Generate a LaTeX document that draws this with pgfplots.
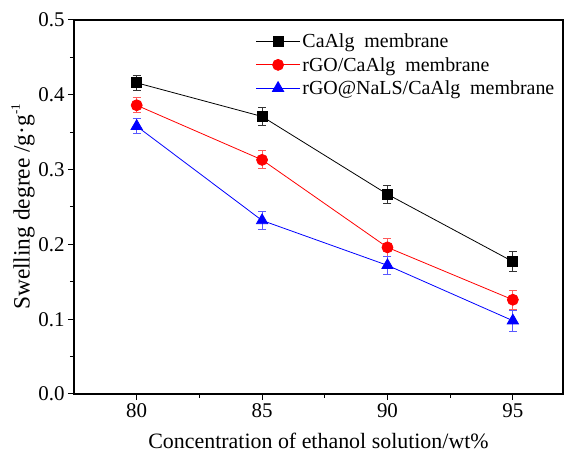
\documentclass[border=0pt]{standalone}
\usepackage{pgfplots}
\pgfplotsset{compat=1.18}
\usepackage{fontspec}
\setmainfont{Liberation Serif}

\begin{document}
\begin{tikzpicture}
\begin{axis}[
  name=ax,
  scale only axis,
  width=489bp, height=374bp,
  xmin=77.5, xmax=97,
  ymin=0, ymax=0.5,
  xtick={80,85,90,95},
  minor xtick={82.5,87.5,92.5},
  ytick={0,0.1,0.2,0.3,0.4,0.5},
  minor ytick={0.05,0.15,0.25,0.35,0.45},
  yticklabel style={/pgf/number format/.cd,fixed,fixed zerofill,precision=1},
  /pgf/number format/assume math mode=true,
  tick align=outside,
  xtick pos=bottom, ytick pos=left,
  major tick length=6bp, minor tick length=4bp,
  every tick/.style={black, line width=1pt},
  axis line style={line width=1.3pt},
  tick label style={font=\fontsize{21}{24}\selectfont},
  xlabel={Concentration of ethanol solution/wt\%},
  ylabel={Swelling degree /g·g\raisebox{0.9ex}{\fontsize{13}{15}\selectfont -1}},
  xlabel style={font=\fontsize{22}{26}\selectfont, yshift=-9bp},
  every axis y label/.style={at={(rel axis cs:0,0.5)}, xshift=-51bp,
    rotate=90, anchor=center, font=\fontsize{23.5}{27}\selectfont},
  legend style={draw=none, fill=none, at={(0.365,0.974)}, anchor=north west,
    font=\fontsize{20}{23}\selectfont, row sep=4bp},
  legend cell align=left,
  legend image code/.code={
    \draw[#1, mark repeat=2, mark phase=2] plot coordinates {(0bp,0bp) (22bp,0bp) (44bp,0bp)};
  },
  error bars/y dir=both, error bars/y explicit,
]
\addplot+[black, line width=0.8pt, mark=square*, mark size=5bp,
  mark options={solid, fill=black},
  error bars/error bar style={line width=1pt, black!80},
  error bars/error mark options={rotate=90, mark size=4bp, line width=1pt}]
  coordinates {(80,0.416) +- (0,0.010) (85,0.371) +- (0,0.012) (90,0.267) +- (0,0.012) (95,0.177) +- (0,0.013)};
\addlegendentry{CaAlg~~membrane}
\addplot+[red, line width=0.8pt, mark=*, mark size=5.5bp,
  mark options={solid, fill=red},
  error bars/error bar style={line width=1pt, red!65},
  error bars/error mark options={rotate=90, mark size=4bp, line width=1pt}]
  coordinates {(80,0.386) +- (0,0.010) (85,0.313) +- (0,0.012) (90,0.196) +- (0,0.012) (95,0.126) +- (0,0.013)};
\addlegendentry{rGO/CaAlg~~membrane}
\addplot+[blue, line width=0.8pt, mark=triangle*, mark size=6.5bp,
  mark options={solid, fill=blue},
  error bars/error bar style={line width=1pt, blue!65},
  error bars/error mark options={rotate=90, mark size=4bp, line width=1pt}]
  coordinates {(80,0.358) +- (0,0.010) (85,0.232) +- (0,0.012) (90,0.172) +- (0,0.012) (95,0.098) +- (0,0.014)};
\addlegendentry{rGO@NaLS/CaAlg~~membrane}
\end{axis}
\path (ax.south west) ++(-74bp,-59bp) coordinate (bl);
\path (ax.north east) ++(9bp,20bp) coordinate (tr);
\pgfresetboundingbox
\path (bl) rectangle (tr);
\end{tikzpicture}
\end{document}
